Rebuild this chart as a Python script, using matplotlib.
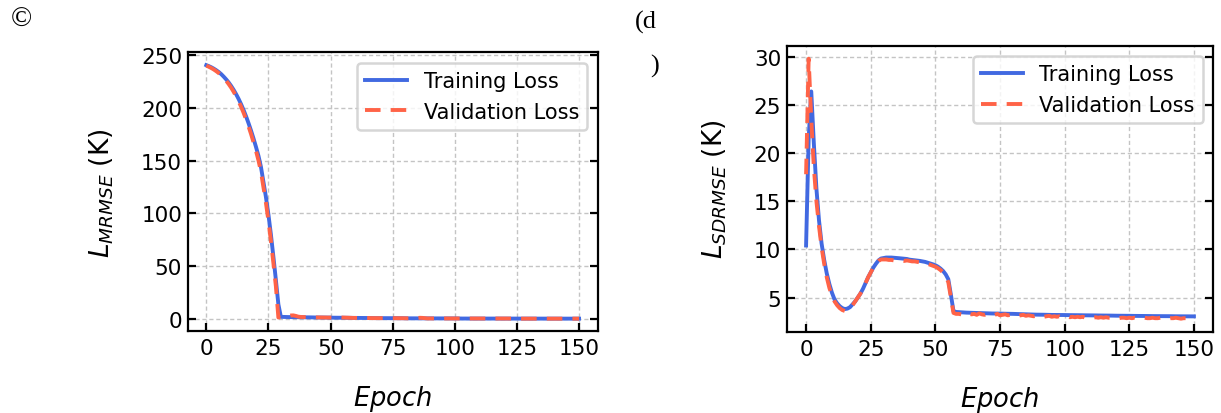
import numpy as np
import matplotlib
matplotlib.use('Agg')
import matplotlib.pyplot as plt

# ---- data ----
epochs = list(range(151))

# (c) mean RMSE loss
train_mrmse = [
    240.5, 239.6, 238.5, 237.2, 235.7, 234.0, 232.0, 229.6, 227.0, 224.1,
    220.8, 217.1, 213.0, 208.5, 203.5, 198.0, 192.0, 185.5, 178.5, 171.0,
    163.0, 154.5, 144.0, 130.0, 115.5, 99.0, 80.0, 59.0, 37.0, 14.0,
    2.1, 2.0, 2.0, 1.9, 1.9, 1.8, 1.8, 1.7, 1.7, 1.7,
    1.6, 1.6, 1.6, 1.5, 1.5, 1.5, 1.4, 1.4, 1.4, 1.4,
    1.3, 1.3, 1.3, 1.3, 1.2, 1.2, 1.2, 1.2, 1.1, 1.1,
    1.1, 1.1, 1.0, 1.0, 1.0, 1.0, 1.0, 0.9, 0.9, 0.9,
    0.9, 0.9, 0.9, 0.8, 0.8, 0.8, 0.8, 0.8, 0.8, 0.8,
    0.7, 0.7, 0.7, 0.7, 0.7, 0.7, 0.7, 0.7, 0.6, 0.6,
    0.6, 0.6, 0.6, 0.6, 0.6, 0.6, 0.6, 0.6, 0.6, 0.6,
    0.6, 0.6, 0.5, 0.5, 0.5, 0.5, 0.5, 0.5, 0.5, 0.5,
    0.5, 0.5, 0.5, 0.5, 0.5, 0.5, 0.5, 0.5, 0.5, 0.5,
    0.5, 0.5, 0.5, 0.5, 0.4, 0.4, 0.4, 0.4, 0.4, 0.4,
    0.4, 0.4, 0.4, 0.4, 0.4, 0.4, 0.4, 0.4, 0.4, 0.4,
    0.4, 0.4, 0.4, 0.4, 0.4, 0.4, 0.4, 0.4, 0.4, 0.4,
    0.4,
]
val_mrmse = [
    240.0, 239.0, 237.8, 236.4, 234.8, 233.0, 230.9, 228.4, 225.7, 222.6,
    219.2, 215.3, 211.0, 206.3, 201.1, 195.4, 189.2, 182.5, 175.3, 167.5,
    159.2, 150.2, 139.5, 125.0, 110.0, 93.0, 74.0, 53.0, 31.0, 1.5,
    1.8, 2.0, 2.3, 2.8, 3.4, 3.5, 3.0, 2.3, 2.0, 1.9,
    1.8, 1.7, 1.7, 1.6, 1.6, 1.5, 1.5, 1.5, 1.4, 1.4,
    1.4, 1.4, 1.5, 1.6, 1.5, 1.3, 1.2, 1.2, 1.1, 1.1,
    1.1, 1.0, 1.0, 1.0, 1.0, 1.0, 0.9, 0.9, 0.9, 0.9,
    0.9, 0.9, 0.8, 0.8, 0.8, 0.8, 0.8, 0.8, 0.8, 0.8,
    0.7, 0.7, 0.7, 0.7, 0.8, 1.0, 1.2, 1.1, 0.8, 0.6,
    0.6, 0.6, 0.6, 0.6, 0.6, 0.6, 0.6, 0.6, 0.6, 0.6,
    0.6, 0.5, 0.5, 0.5, 0.5, 0.5, 0.5, 0.5, 0.5, 0.5,
    0.5, 0.5, 0.5, 0.5, 0.5, 0.5, 0.5, 0.5, 0.5, 0.5,
    0.5, 0.5, 0.5, 0.4, 0.4, 0.4, 0.4, 0.4, 0.4, 0.4,
    0.4, 0.4, 0.4, 0.4, 0.4, 0.4, 0.4, 0.4, 0.4, 0.4,
    0.4, 0.4, 0.4, 0.4, 0.4, 0.4, 0.4, 0.4, 0.4, 0.4,
    0.4,
]

# (d) std RMSE loss
train_sdrmse = [
    10.4, 21.5, 26.4, 21.0, 16.3, 13.0, 10.6, 8.9, 7.5, 6.4,
    5.5, 4.8, 4.4, 4.1, 3.9, 3.8, 3.85, 4.0, 4.3, 4.6,
    5.0, 5.4, 5.9, 6.5, 7.1, 7.6, 8.1, 8.5, 8.85, 9.05,
    9.1, 9.15, 9.15, 9.15, 9.13, 9.1, 9.08, 9.05, 9.02, 9.0,
    8.93, 8.9, 8.87, 8.83, 8.8, 8.75, 8.7, 8.62, 8.55, 8.45,
    8.35, 8.2, 8.0, 7.75, 7.4, 6.9, 5.3, 3.6, 3.5, 3.48,
    3.45, 3.44, 3.43, 3.42, 3.41, 3.40, 3.39, 3.38, 3.37, 3.36,
    3.35, 3.35, 3.34, 3.34, 3.33, 3.33, 3.32, 3.32, 3.31, 3.31,
    3.30, 3.29, 3.28, 3.27, 3.26, 3.25, 3.24, 3.23, 3.23, 3.22,
    3.22, 3.21, 3.21, 3.20, 3.20, 3.19, 3.19, 3.19, 3.18, 3.18,
    3.18, 3.17, 3.17, 3.17, 3.16, 3.16, 3.16, 3.15, 3.15, 3.15,
    3.14, 3.14, 3.14, 3.13, 3.13, 3.13, 3.12, 3.12, 3.12, 3.11,
    3.11, 3.11, 3.10, 3.10, 3.10, 3.10, 3.09, 3.09, 3.09, 3.08,
    3.08, 3.08, 3.08, 3.07, 3.07, 3.07, 3.07, 3.06, 3.06, 3.06,
    3.06, 3.06, 3.05, 3.05, 3.05, 3.05, 3.05, 3.04, 3.04, 3.04,
    3.04,
]
val_sdrmse = [
    17.8, 29.8, 23.5, 18.5, 15.0, 12.4, 10.2, 8.5, 7.1, 6.0,
    5.2, 4.6, 4.2, 3.9, 3.7, 3.6, 3.7, 3.9, 4.2, 4.6,
    5.0, 5.4, 5.9, 6.5, 7.1, 7.6, 8.1, 8.5, 8.8, 8.95,
    8.95, 8.95, 8.9, 8.9, 8.85, 8.9, 8.85, 8.85, 8.8, 8.85,
    8.8, 8.75, 8.75, 8.7, 8.65, 8.6, 8.55, 8.5, 8.4, 8.3,
    8.2, 8.05, 7.85, 7.6, 7.2, 6.6, 5.0, 3.4, 3.3, 3.3,
    3.25, 3.35, 3.2, 3.3, 3.25, 3.3, 3.2, 3.35, 3.25, 3.2,
    3.3, 3.2, 3.25, 3.2, 3.3, 3.15, 3.2, 3.25, 3.15, 3.2,
    3.15, 3.2, 3.1, 3.15, 3.2, 3.1, 3.15, 3.1, 3.05, 3.1,
    3.05, 3.1, 3.0, 3.05, 3.1, 3.0, 3.05, 3.0, 3.05, 2.95,
    3.0, 3.05, 2.95, 3.0, 2.95, 3.0, 2.95, 3.0, 2.9, 2.95,
    3.0, 2.9, 2.95, 2.9, 2.95, 2.9, 2.95, 2.9, 2.9, 2.95,
    2.9, 2.85, 2.9, 2.9, 2.85, 2.9, 2.85, 2.9, 2.85, 2.9,
    2.85, 2.9, 2.85, 2.85, 2.9, 2.85, 2.85, 2.9, 2.85, 2.85,
    2.8, 2.85, 2.85, 2.9, 2.85, 2.8, 2.85, 2.85, 2.8, 2.85,
    2.85,
]

xticks = [0, 25, 50, 75, 100, 125, 150]
yticks_c = [0, 50, 100, 150, 200, 250]
yticks_d = [5, 10, 15, 20, 25, 30]

blue = '#4169E1'
red = '#FF6347'

fig = plt.figure(figsize=(12.21, 4.14), dpi=100)
ax1 = fig.add_axes([0.1537, 0.1973, 0.3358, 0.6735])
ax2 = fig.add_axes([0.6443, 0.1964, 0.3494, 0.6908])


def style_axes(ax, yticks, ylabel):
    for s in ax.spines.values():
        s.set_linewidth(1.6)
    ax.set_xticks(xticks)
    ax.set_yticks(yticks)
    ax.tick_params(axis='both', which='major', direction='in', length=5.5, width=1.6,
                   labelsize=15.5, right=True, top=False)
    ax.tick_params(axis='x', pad=5)
    ax.tick_params(axis='y', pad=4)
    ax.grid(True, color='#c4c4c4', linestyle=(0, (3, 2)), linewidth=1.0)
    ax.set_axisbelow(True)
    ax.set_xlabel('$Epoch$', fontsize=18.5, labelpad=18)
    ax.set_ylabel(ylabel, fontsize=19, labelpad=18)
    leg = ax.legend(loc='upper right', fontsize=15, handlelength=2.0)
    leg.get_frame().set_linewidth(1.8)
    leg.get_frame().set_edgecolor('#cccccc')


ax1.plot(epochs, train_mrmse, color=blue, lw=2.8, label='Training Loss')
ax1.plot(epochs, val_mrmse, color=red, lw=2.8, linestyle=(0, (4, 2.6)), label='Validation Loss')
style_axes(ax1, yticks_c, r'$L_{MRMSE}$ (K)')

ax2.plot(epochs, train_sdrmse, color=blue, lw=2.8, label='Training Loss')
ax2.plot(epochs, val_sdrmse, color=red, lw=2.8, linestyle=(0, (4, 2.6)), label='Validation Loss')
style_axes(ax2, yticks_d, r'$L_{SDRMSE}$ (K)')

# panel letters
fig.text(11 / 1221, 1 - 20 / 414, '\u00a9', family='Liberation Serif', fontsize=20,
         ha='left', va='center')
fig.text(635 / 1221, 1 - 22 / 414, '(d', family='Liberation Serif', fontsize=19,
         ha='left', va='center')
fig.text(650 / 1221, 1 - 66 / 414, ')', family='Liberation Serif', fontsize=19,
         ha='left', va='center')

fig.savefig('out.png', dpi=100)
